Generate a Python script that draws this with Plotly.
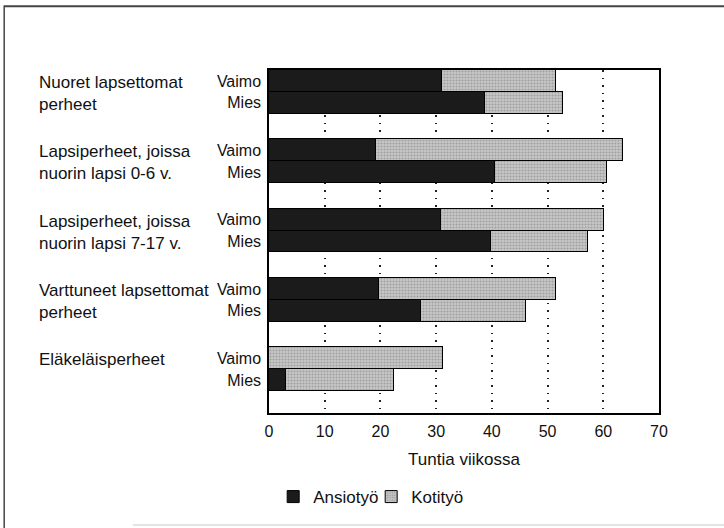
import plotly.graph_objects as go

groups = [
    "Nuoret lapsettomat<br>perheet",
    "Lapsiperheet, joissa<br>nuorin lapsi 0-6 v.",
    "Lapsiperheet, joissa<br>nuorin lapsi 7-17 v.",
    "Varttuneet lapsettomat<br>perheet",
    "Eläkeläisperheet",
]
persons = ["Vaimo", "Mies"]
ansiotyo_vaimo = [31.0, 19.2, 30.8, 19.8, 0.0]
ansiotyo_mies = [38.8, 40.6, 39.8, 27.3, 3.0]
kotityo_vaimo = [20.6, 44.3, 29.4, 31.7, 31.2]
kotityo_mies = [13.9, 20.0, 17.5, 18.8, 19.5]
x_ticks = [0, 10, 20, 30, 40, 50, 60, 70]

PITCH = 3.17
ypos, ylab, ans, kot = [], [], [], []
for g in range(len(groups)):
    for p, person in enumerate(persons):
        ypos.append(g * PITCH + 0.5 + p)
        ylab.append(person)
    ans += [ansiotyo_vaimo[g], ansiotyo_mies[g]]
    kot += [kotityo_vaimo[g], kotityo_mies[g]]

FONT = "Liberation Sans, Arial, Helvetica, sans-serif"

fig = go.Figure()
fig.add_trace(go.Bar(
    y=ypos, x=ans, orientation="h", width=1.0, name="Ansiotyö",
    marker=dict(color="#1b1b1b", line=dict(color="#000000", width=1)),
))
fig.add_trace(go.Bar(
    y=ypos, x=kot, orientation="h", width=1.0, name="Kotityö",
    marker=dict(color="#c0c0c0", line=dict(color="#000000", width=1),
                pattern=dict(shape=".", bgcolor="#c8c8c8", fgcolor="#767676",
                             size=3, solidity=0.4, fillmode="overlay")),
))

annotations = []
for g, label in enumerate(groups):
    annotations.append(dict(
        text=label, xref="paper", x=-0.594, xanchor="left",
        yref="y", y=g * PITCH + 0.05, yanchor="top", align="left",
        showarrow=False, font=dict(size=17, color="#111111", family=FONT),
    ))

frame = "#444444"
shapes = [
    dict(type="line", xref="paper", yref="paper", x0=-0.679, x1=1.17, y0=1.186, y1=1.186,
         line=dict(color=frame, width=2)),
    dict(type="line", xref="paper", yref="paper", x0=-0.679, x1=-0.679, y0=1.188, y1=-0.34,
         line=dict(color=frame, width=1.5)),
    dict(type="line", xref="paper", yref="paper", x0=-0.349, x1=1.17, y0=-0.3265, y1=-0.3265,
         line=dict(color="#c8c8c8", width=1)),
]

fig.update_layout(
    barmode="stack",
    width=724, height=528,
    margin=dict(l=269, r=65, t=70, b=115),
    paper_bgcolor="white", plot_bgcolor="white",
    font=dict(family=FONT, size=16, color="#111111"),
    annotations=annotations,
    shapes=shapes,
    showlegend=True,
    legend=dict(orientation="h", x=0.262, xanchor="center", y=-0.245, yanchor="middle",
                font=dict(size=17), traceorder="normal", itemwidth=30,
                entrywidth=53, entrywidthmode="pixels",
                bgcolor="rgba(0,0,0,0)"),
    xaxis=dict(range=[0, 70], tickvals=x_ticks, ticktext=[str(v) for v in x_ticks],
               showgrid=True, gridcolor="#222222", gridwidth=1.5, griddash="1.5px,6px",
               zeroline=False, showline=True, linecolor="#000000", linewidth=1.5, mirror=True,
               ticks="", ticklabelstandoff=3,
               title=dict(text="Tuntia viikossa", font=dict(size=17), standoff=14)),
    yaxis=dict(range=[len(groups) * PITCH - 0.17, 0], tickvals=ypos, ticktext=ylab,
               showgrid=False, zeroline=False, showline=True, linecolor="#000000",
               linewidth=1.5, mirror=True, ticks="", ticklabelstandoff=3),
    bargap=0,
)

fig.write_html("out.html", config={"displayModeBar": False},
               post_script="document.body.style.margin='0';")
